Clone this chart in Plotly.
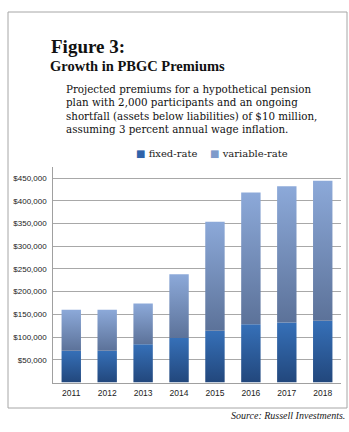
import plotly.graph_objects as go

# Projected PBGC premiums (USD) for a plan with 2,000 participants
years = ["2011", "2012", "2013", "2014", "2015", "2016", "2017", "2018"]
fixed_rate = [70000, 70000, 84000, 98000, 114000, 128000, 132000, 136000]
variable_rate = [90000, 90000, 90000, 140000, 240000, 290000, 300000, 308000]
y_ticks = [50000, 100000, 150000, 200000, 250000, 300000, 350000, 400000, 450000]
y_tick_text = ["${:,}".format(v) for v in y_ticks]

subtitle_lines = [
    "Projected premiums for a hypothetical pension",
    "plan with 2,000 participants and an ongoing",
    "shortfall (assets below liabilities) of $10 million,",
    "assuming 3 percent annual wage inflation.",
]

W, H = 349, 432
BAR_W = 0.54

# vertical gradients (bottom colour, top colour) for each series
FIXED_GRAD = ("#22477c", "#3670b8")
VAR_GRAD = ("#5c7299", "#8ca9d9")


def px(x):
    return x / W


def py(y):
    return 1 - y / H


fig = go.Figure()


def segment(i, base, height, grad, name):
    x0, x1 = i - BAR_W / 2, i + BAR_W / 2
    top = base + height
    return go.Scatter(
        x=[x0, x1, x1, x0, x0],
        y=[base, base, top, top, base],
        fill="toself",
        mode="none",
        fillgradient=dict(type="vertical", colorscale=[[0, grad[0]], [1, grad[1]]],
                          start=base, stop=top),
        name=name,
        hoveron="fills",
        text=f"{name} {years[i]}: ${height:,}",
        hoverinfo="text",
        showlegend=False,
    )


for i in range(len(years)):
    fig.add_trace(segment(i, 0, fixed_rate[i], FIXED_GRAD, "fixed-rate"))
    fig.add_trace(segment(i, fixed_rate[i], variable_rate[i], VAR_GRAD, "variable-rate"))

serif = "Liberation Serif"
body_serif = "DejaVu Serif"
sans = "Liberation Sans"

annotations = [
    dict(text="<b>Figure 3:</b>", x=px(49), y=py(47), xanchor="left", yanchor="middle",
         font=dict(family=serif, size=19, color="#111111")),
    dict(text="<b>Growth in PBGC Premiums</b>", x=px(48), y=py(66), xanchor="left", yanchor="middle",
         font=dict(family=serif, size=14.5, color="#111111")),
    dict(text="<br>".join(subtitle_lines), x=px(64), y=py(80.5), xanchor="left", yanchor="top",
         align="left", font=dict(family=body_serif, size=10.3, color="#111111")),
    dict(text="<span style='color:#2f63aa'>■</span> fixed-rate", x=px(134), y=py(154),
         xanchor="left", yanchor="middle",
         font=dict(family=body_serif, size=10, color="#1a1a1a")),
    dict(text="<span style='color:#7f9bcb'>■</span> variable-rate", x=px(208), y=py(154),
         xanchor="left", yanchor="middle",
         font=dict(family=body_serif, size=10, color="#1a1a1a")),
    dict(text="<i>Source: Russell Investments.</i>", x=px(347), y=py(415),
         xanchor="right", yanchor="middle",
         font=dict(family=serif, size=10, color="#1a1a1a")),
]
for a in annotations:
    a.update(xref="paper", yref="paper", showarrow=False)

fig.update_layout(
    width=W, height=H,
    margin=dict(l=0, r=0, t=0, b=0),
    paper_bgcolor="white", plot_bgcolor="white",
    showlegend=False,
    annotations=annotations,
    shapes=[dict(type="rect", xref="paper", yref="paper",
                 x0=px(8), x1=px(347), y0=py(408), y1=py(12),
                 line=dict(color="#a6a6a6", width=1), layer="below")],
    xaxis=dict(
        domain=[px(53.3), px(340.7)],
        range=[-0.5, len(years) - 0.5],
        tickvals=list(range(len(years))), ticktext=years,
        showgrid=False, zeroline=False,
        showline=True, linecolor="#a0a0a0", linewidth=1,
        ticks="", ticklabelstandoff=2,
        tickfont=dict(family=sans, size=8.5, color="#222222"),
        fixedrange=True,
    ),
    yaxis=dict(
        domain=[py(382.5), py(166.7)],
        range=[0, 475000],
        tickvals=y_ticks, ticktext=y_tick_text,
        showgrid=True, gridcolor="#a8a8a8", gridwidth=1,
        zeroline=False,
        showline=True, linecolor="#a0a0a0", linewidth=1,
        ticks="", ticklabelstandoff=4,
        tickfont=dict(family=sans, size=8, color="#222222"),
        fixedrange=True,
    ),
)

fig.write_html("out.html")
